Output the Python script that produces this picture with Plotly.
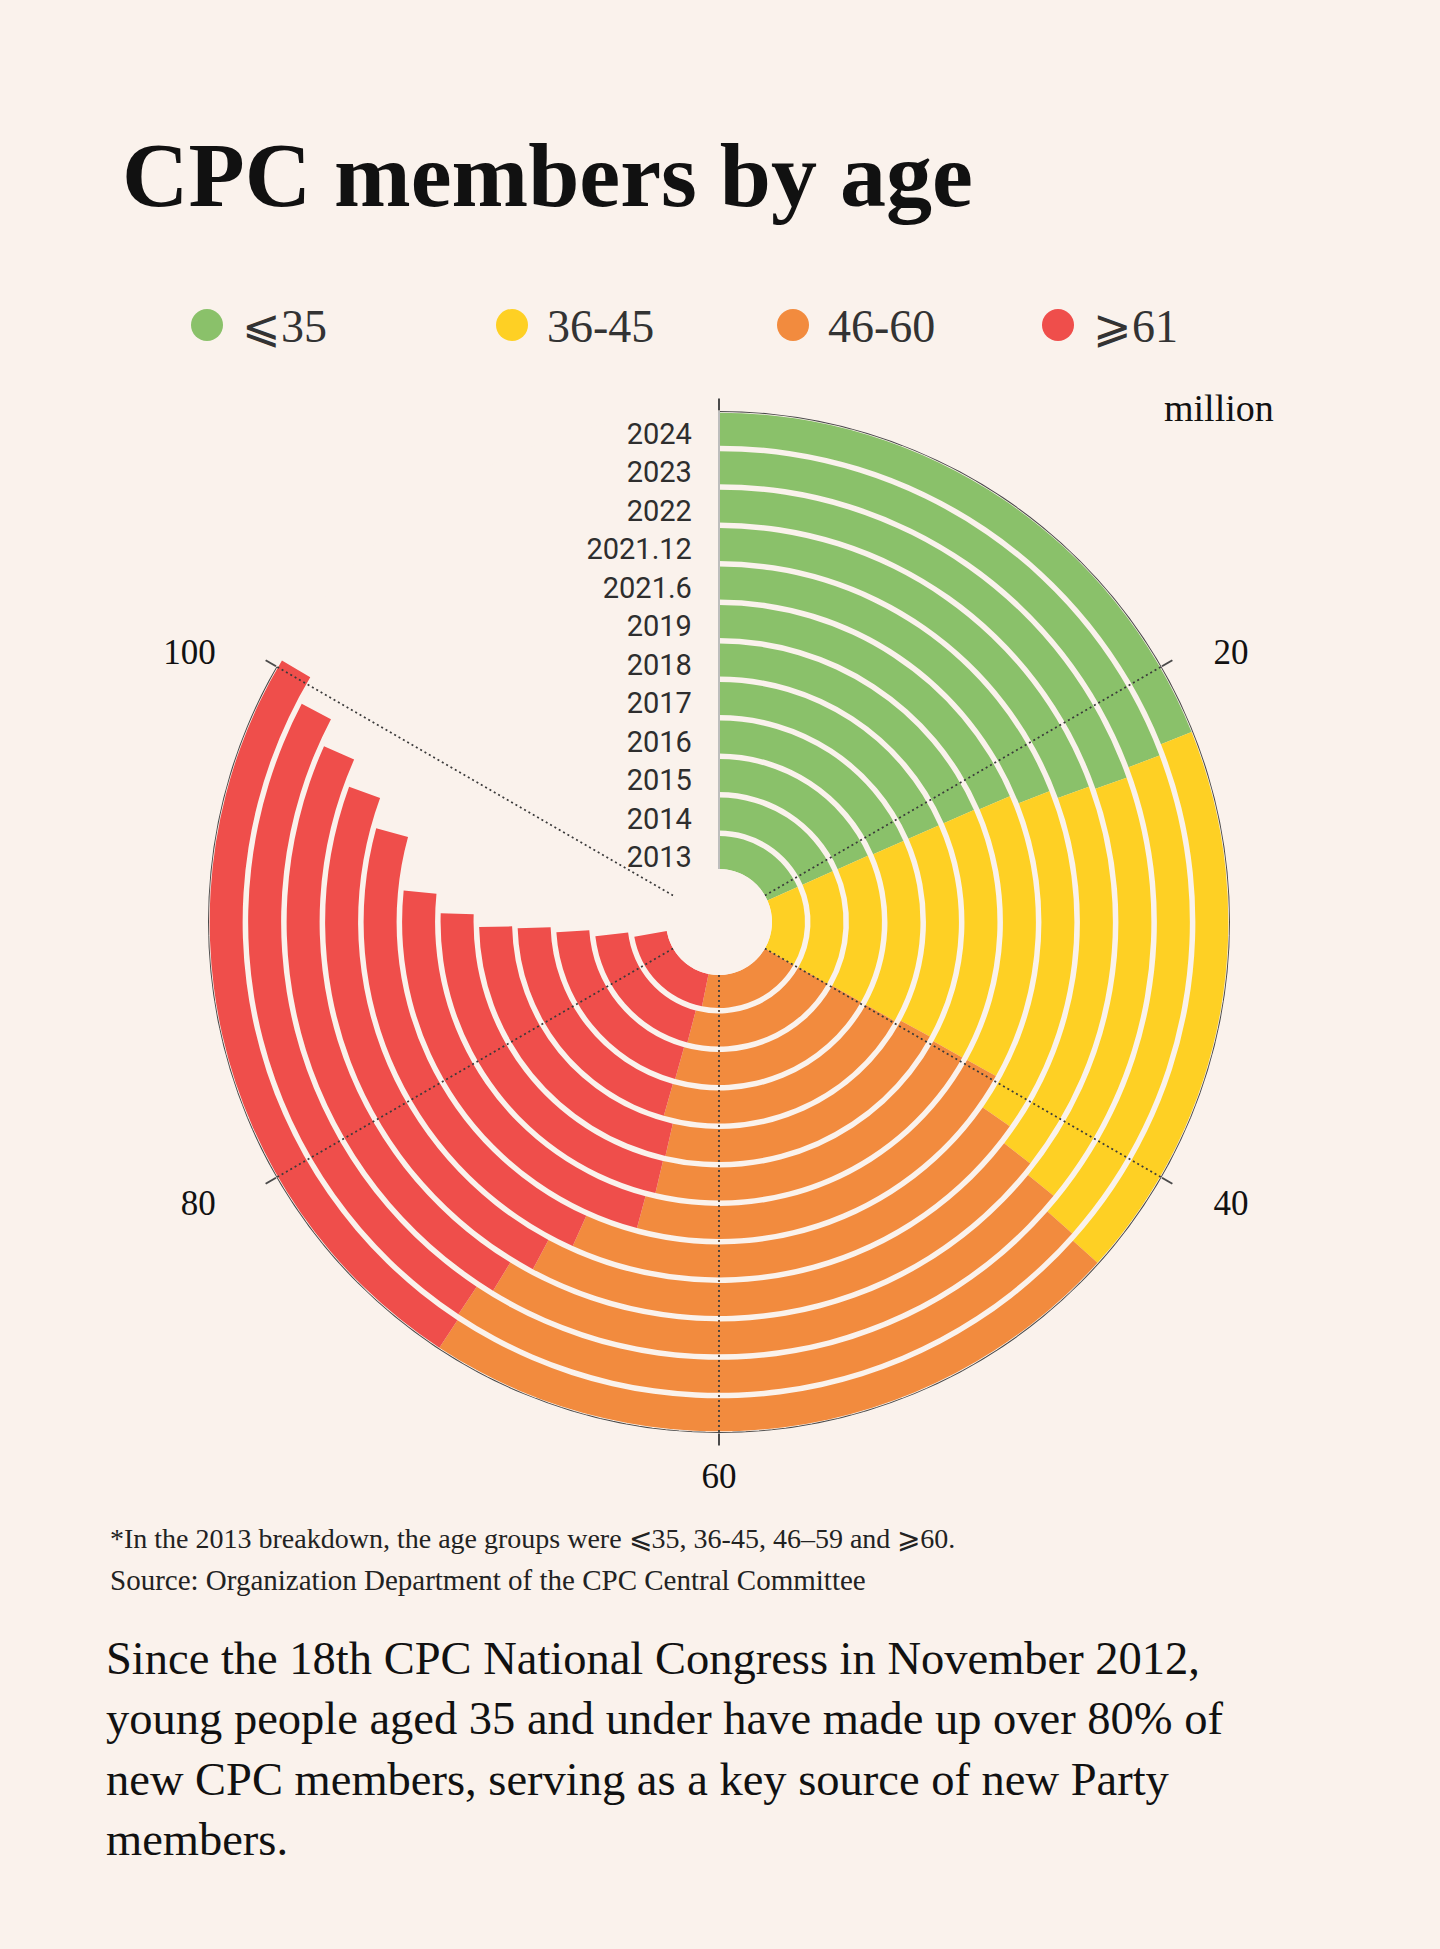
import plotly.graph_objects as go

# ---------------- data (million members) ----------------
years = ["2013", "2014", "2015", "2016", "2017", "2018", "2019",
         "2021.6", "2021.12", "2022", "2023", "2024"]
age_groups = ["⩽35", "36-45", "46-60", "⩾61"]
le35 = [22.0, 22.0, 22.0, 22.1, 22.1, 22.1, 22.2, 22.8, 23.3, 23.5, 23.1, 22.7]
a36_45 = [18.0, 17.9, 17.8, 17.7, 17.4, 17.6, 17.5, 18.9, 19.3, 19.6, 20.7, 21.3]
a46_60 = [23.8, 25.0, 25.4, 25.5, 24.8, 24.7, 25.3, 26.4, 26.8, 27.4, 27.4, 27.1]
ge61 = [22.9, 22.9, 23.6, 24.1, 25.3, 26.2, 26.9, 27.0, 27.3, 27.5, 28.0, 29.2]
tick_values = [0, 20, 40, 60, 80, 100]
axis_max = 120  # value that corresponds to a full turn

# ---------------- style ----------------
BG = "#FAF2EC"
colors = ["#8AC16A", "#FED024", "#F28B3E", "#EF4E4B"]
BAR = 0.857      # ring thickness (radial units)
R_MAX = 11.9     # radial range
W, H = 1440, 1949
SERIF = "Liberation Serif"
NB = "\u00a0"

deg = 360.0 / axis_max
series = [le35, a36_45, a46_60, ge61]
n = len(years)


def tick_label(v):
    """Angular tick text, padded so that it sits a little away from the ring."""
    if v == 0:
        return ""
    a = v * deg
    if 0 < a < 180:
        return NB * 4 + str(v)
    if 180 < a < 360:
        return str(v) + NB * 5
    return str(v)


fig = go.Figure()

cum = [0.0] * n
for name, vals, col in zip(age_groups, series, colors):
    fig.add_trace(go.Barpolar(
        r=[BAR] * n,
        base=list(range(n)),
        theta=[(c + v / 2) * deg for c, v in zip(cum, vals)],
        width=[v * deg for v in vals],
        marker=dict(color=col, line=dict(width=0)),
        name=name, showlegend=False,
        customdata=vals, text=years,
        hovertemplate="%{text}: %{customdata} million<extra>" + name + "</extra>",
    ))
    cum = [c + v for c, v in zip(cum, vals)]

# outer axis arc, from 0 to the last tick
steps = 200
arc_theta = [tick_values[-1] * deg * i / steps for i in range(steps + 1)]
fig.add_trace(go.Scatterpolar(
    r=[R_MAX] * len(arc_theta), theta=arc_theta, mode="lines",
    line=dict(color="#4a4a4a", width=2), showlegend=False,
    hoverinfo="skip", cliponaxis=False,
))

# dotted reference lines drawn over the rings
for t in tick_values[1:]:
    fig.add_trace(go.Scatterpolar(
        r=[0, R_MAX], theta=[t * deg, t * deg], mode="lines",
        line=dict(color="#3a3a3a", width=1.7, dash="2px,3px"),
        showlegend=False, hoverinfo="skip", cliponaxis=False,
    ))

# legend (round keys)
legend_cx = [207, 512, 793, 1058]
LEG_Y = 325
shapes = []
annotations = []
for cx, name, col in zip(legend_cx, age_groups, colors):
    shapes.append(dict(
        type="circle", xref="paper", yref="paper",
        xsizemode="pixel", ysizemode="pixel",
        xanchor=cx / W, yanchor=1 - LEG_Y / H,
        x0=-16, x1=16, y0=-16, y1=16,
        fillcolor=col, line=dict(width=0),
    ))
    annotations.append(dict(
        text=name, x=(cx + 33) / W, y=1 - (LEG_Y + 2) / H,
        xref="paper", yref="paper", xanchor="left", yanchor="middle",
        showarrow=False, font=dict(family=SERIF, size=46, color="#333333"),
    ))

annotations += [
    dict(text="million", x=1219 / W, y=1 - 408 / H, xref="paper", yref="paper",
         xanchor="center", yanchor="middle",
         showarrow=False, font=dict(family=SERIF, size=38, color="#111111")),
    dict(text="*In the 2013 breakdown, the age groups were ⩽35, 36-45, 46–59 and ⩾60.",
         x=108 / W, y=1 - 1538 / H, xref="paper", yref="paper", xanchor="left",
         yanchor="middle", showarrow=False,
         font=dict(family=SERIF, size=28, color="#222222")),
    dict(text="Source: Organization Department of the CPC Central Committee",
         x=108 / W, y=1 - 1580 / H, xref="paper", yref="paper", xanchor="left",
         yanchor="middle", showarrow=False,
         font=dict(family=SERIF, size=29, color="#222222")),
    dict(text="Since the 18th CPC National Congress in November 2012,<br>"
              "young people aged 35 and under have made up over 80% of<br>"
              "new CPC members, serving as a key source of new Party<br>"
              "members.",
         x=104 / W, y=1 - 1749 / H, xref="paper", yref="paper", xanchor="left",
         yanchor="middle", align="left", showarrow=False,
         font=dict(family=SERIF, size=46.5, color="#111111")),
]

fig.update_layout(
    width=W, height=H,
    margin=dict(l=0, r=0, t=0, b=0),
    paper_bgcolor=BG, plot_bgcolor=BG,
    showlegend=False,
    title=dict(
        text="<b>CPC members by age</b>",
        font=dict(family=SERIF, size=92, color="#111111"),
        xref="container", yref="container",
        x=122 / W, xanchor="left",
        y=1 - 174 / H, yanchor="middle",
    ),
    polar=dict(
        domain=dict(x=[208 / W, 1230 / W], y=[1 - 1433 / H, 1 - 411 / H]),
        bgcolor=BG,
        hole=53 / 511,
        angularaxis=dict(
            rotation=90, direction="clockwise",
            tickmode="array",
            tickvals=[t * deg for t in tick_values],
            ticktext=[tick_label(t) for t in tick_values],
            showgrid=False, showline=False,
            ticks="outside", ticklen=12, tickwidth=1.5, tickcolor="#4a4a4a",
            tickfont=dict(family=SERIF, size=35, color="#111111"),
        ),
        radialaxis=dict(
            range=[0, R_MAX], angle=90, side="counterclockwise",
            tickmode="array",
            tickvals=[i + BAR / 2 for i in range(n)], ticktext=years,
            showgrid=False, showline=True, linecolor="#bdbdbd", linewidth=2,
            ticks="",
            tickfont=dict(family="Roboto", size=29, color="#2e2e2e"),
        ),
    ),
    shapes=shapes,
    annotations=annotations,
)

fig.write_html("out.html")
